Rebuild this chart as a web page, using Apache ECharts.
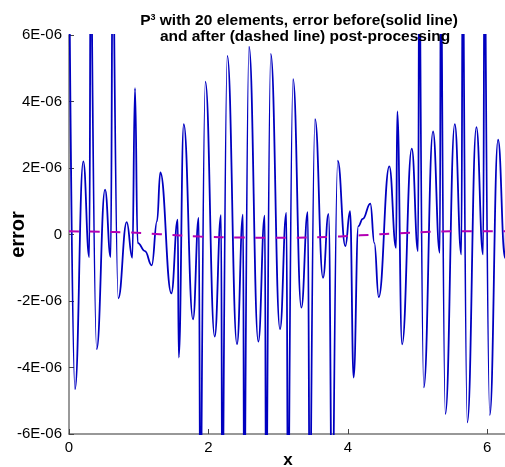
<!DOCTYPE html>
<html><head><meta charset="utf-8">
<script src="https://cdn.jsdelivr.net/npm/echarts@6/dist/echarts.min.js"></script>
<style>html,body{margin:0;padding:0;background:#fff}#c{width:505px;height:467px}</style>
</head><body><div id="c"></div>
<script>
// solid line: error before post-processing (extrema of each element)
const solidX = [
  0, 0.086, 0.205, 0.291, 0.314,
  0.320, 0.397, 0.517, 0.598, 0.631,
  0.640, 0.707, 0.828, 0.908, 0.947,
  0.985, 1.090, 1.187,
  1.263, 1.310, 1.468, 1.560, 1.574,
  1.646, 1.779, 1.861, 1.888,
  1.897, 1.956, 2.090, 2.181, 2.202,
  2.211, 2.271, 2.410, 2.496, 2.516,
  2.525, 2.582, 2.716, 2.808, 2.831,
  2.839, 2.894, 3.027, 3.118, 3.145,
  3.154, 3.214, 3.333, 3.425, 3.458,
  3.466, 3.529, 3.644, 3.723, 3.782,
  3.788, 3.855, 3.964, 4.032, 4.083,
  4.151, 4.214, 4.323, 4.380,
  4.443, 4.595, 4.692, 4.709,
  4.778, 4.917, 5.007, 5.027,
  5.034, 5.089, 5.222, 5.319, 5.337,
  5.344, 5.399, 5.534, 5.628, 5.651,
  5.659, 5.714, 5.844, 5.940, 5.964,
  5.971, 6.036, 6.155, 6.255, 6.283
];
const solidY = [
  9e-6, -4.65e-6, 2.2e-6, -0.68e-6, 10e-6,
  10e-6, -3.45e-6, 1.35e-6, -0.68e-6, 10e-6,
  10e-6, -1.92e-6, 0.37e-6, -0.7e-6, 4.4e-6,
  -0.25e-6, -0.5e-6, -0.93e-6,
  0.4e-6, 1.87e-6, -1.77e-6, 0.45e-6, -3.7e-6,
  3.32e-6, -2.55e-6, 0.5e-6, -10e-6,
  -10e-6, 4.6e-6, -3.07e-6, 0.58e-6, -10e-6,
  -10e-6, 5.37e-6, -3.3e-6, 0.6e-6, -10e-6,
  -10e-6, 5.65e-6, -3.22e-6, 0.57e-6, -10e-6,
  -10e-6, 5.43e-6, -2.85e-6, 0.65e-6, -10e-6,
  -10e-6, 4.67e-6, -2.2e-6, 0.67e-6, -10e-6,
  -10e-6, 3.47e-6, -1.3e-6, 0.62e-6, -10e-6,
  -10e-6, 2.22e-6, -0.35e-6, 0.7e-6, -4.3e-6,
  0.25e-6, 0.47e-6, 0.93e-6, -0.25e-6,
  -1.88e-6, 2.05e-6, -0.4e-6, 3.7e-6,
  -3.3e-6, 2.58e-6, -0.5e-6, 10e-6,
  10e-6, -4.6e-6, 3.1e-6, -0.55e-6, 10e-6,
  10e-6, -5.4e-6, 3.32e-6, -0.6e-6, 10e-6,
  10e-6, -5.65e-6, 3.23e-6, -0.6e-6, 10e-6,
  10e-6, -5.43e-6, 2.85e-6, -0.7e-6, 3e-6
];
// dashed line: error after post-processing
const dashX = [0, 0.445, 0.875, 1.306, 1.880, 2.453, 3.142, 3.745, 4.032, 4.319, 4.749, 5.179, 5.753, 6.283];
const dashY = [0.1e-6, 0.08e-6, 0.06e-6, 0.01e-6, -0.06e-6, -0.09e-6, -0.1e-6, -0.07e-6, -0.04e-6, -0.01e-6, 0.04e-6, 0.08e-6, 0.1e-6, 0.1e-6];
const xTicks = [0, 2, 4, 6];

const FONT = 'Liberation Sans, Arial, sans-serif';
const chart = echarts.init(document.getElementById('c'), null, {renderer: 'canvas'});
chart.setOption({
  animation: false,
  backgroundColor: '#fff',
  title: {
    text: '{b|P}{s|3}{b1| with 20 elements, error before(solid line)}\n{b|and after (dashed line) post-processing}',
    left: 300, top: 8, textAlign: 'center',
    textStyle: {
      rich: {
        b: {fontSize: 15.5, fontWeight: 'bold', fontFamily: FONT, color: '#000', lineHeight: 16},
        b1: {fontSize: 15.5, fontWeight: 'bold', fontFamily: FONT, color: '#000', lineHeight: 16, padding: [0, 12, 0, 0]},
        s: {fontSize: 9, fontWeight: 'bold', fontFamily: FONT, color: '#000', verticalAlign: 'top', lineHeight: 10}
      }
    }
  },
  grid: {left: 69, top: 35, right: -2, bottom: 33, containLabel: false, outerBoundsMode: 'none'},
  xAxis: {
    type: 'value', min: 0, max: 6.2832, interval: 2,
    name: 'x', nameLocation: 'middle', nameGap: 18, nameMoveOverlap: false,
    nameTextStyle: {fontSize: 17, fontWeight: 'bold', fontFamily: FONT, color: '#000'},
    axisLine: {onZero: false, lineStyle: {color: '#777', width: 1.5}},
    axisTick: {inside: true, length: 5, lineStyle: {color: '#444', width: 1}},
    axisLabel: {fontSize: 15, fontFamily: FONT, color: '#000', margin: 6, showMaxLabel: false,
      formatter: v => xTicks.includes(v) ? String(v) : ''},
    splitLine: {show: false}
  },
  yAxis: {
    type: 'value', min: -6e-6, max: 6e-6, interval: 2e-6,
    name: 'error', nameLocation: 'middle', nameGap: 41, nameRotate: 90, nameMoveOverlap: false,
    nameTextStyle: {fontSize: 20, fontWeight: 'bold', fontFamily: FONT, color: '#000'},
    axisLine: {onZero: false, lineStyle: {color: '#777', width: 1.5}},
    axisTick: {inside: true, length: 5, lineStyle: {color: '#444', width: 1}},
    axisLabel: {fontSize: 15, fontFamily: FONT, color: '#000', margin: 7,
      formatter: v => { const m = Math.round(v * 1e6); return m === 0 ? '0' : m + 'E-06'; }},
    splitLine: {show: false}
  },
  series: [
    {
      type: 'line', name: 'before', showSymbol: false, smooth: 0.45, smoothMonotone: 'x', clip: true,
      data: solidX.map((x, i) => [x, solidY[i]]),
      lineStyle: {color: '#0000c0', width: 1.8}, z: 3
    },
    {
      type: 'line', name: 'after', showSymbol: false, smooth: 0.4, clip: true,
      data: dashX.map((x, i) => [x, dashY[i]]),
      lineStyle: {color: '#b400b4', width: 2, type: [10, 10.7]}, z: 4
    }
  ]
});
</script>
</body></html>
